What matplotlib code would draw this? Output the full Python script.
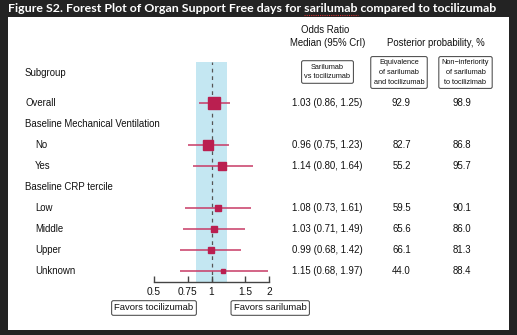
import matplotlib
matplotlib.use("Agg")
import matplotlib.pyplot as plt
import matplotlib.transforms as mtransforms
from matplotlib.patches import Rectangle

# ---- data ----
row_labels = ["Overall", "Baseline Mechanical Ventilation", "No", "Yes",
              "Baseline CRP tercile", "Low", "Middle", "Upper", "Unknown"]
indented = [False, False, True, True, False, True, True, True, True]
medians = [1.03, None, 0.96, 1.14, None, 1.08, 1.03, 0.99, 1.15]
lower = [0.86, None, 0.75, 0.80, None, 0.73, 0.71, 0.68, 0.68]
upper = [1.25, None, 1.23, 1.64, None, 1.61, 1.49, 1.42, 1.97]
equivalence = ["92.9", "", "82.7", "55.2", "", "59.5", "65.6", "66.1", "44.0"]
noninferiority = ["98.9", "", "86.8", "95.7", "", "90.1", "86.0", "81.3", "88.4"]
marker_sizes = [8.6, 0, 7.2, 5.4, 0, 4.7, 5.0, 5.0, 2.9]
xticks = [0.5, 0.75, 1, 1.5, 2]
xtick_labels = ["0.5", "0.75", "1", "1.5", "2"]
equiv_band = (1 / 1.2, 1.2)

W, H = 517, 335
fig = plt.figure(figsize=(W / 100, H / 100), dpi=100)
fig.patch.set_facecolor("#232323")

def fx(px):
    return px / W

def fy(py):
    return 1 - py / H

# white panel
fig.patches.append(Rectangle((fx(8), fy(330)), fx(509) - fx(8), fy(17) - fy(330),
                             transform=fig.transFigure, facecolor="white",
                             edgecolor="none", zorder=-5))

title_prefix = "Figure S2. Forest Plot of Organ Support Free days for "
title_word = "sarilumab"
title_kw = dict(color="white", fontsize=8.95, fontweight="bold", family="Lato",
                ha="left", va="center")
fig.text(fx(8), fy(9), title_prefix + title_word + " compared to tocilizumab", **title_kw)

# spell-check underline under "sarilumab", positioned from measured text extents
renderer = fig.canvas.get_renderer()
t1 = fig.text(fx(8), fy(9), title_prefix.rstrip() + " ", **title_kw)
t2 = fig.text(fx(8), fy(9), title_prefix + title_word, **title_kw)
t1.set_text(title_prefix.rstrip() + " x")
bb_x = t1.get_window_extent(renderer)
t1.set_text(title_prefix.rstrip() + " ")
t1.set_text("x")
bb_xx = t1.get_window_extent(renderer)
t1.set_text(title_prefix.rstrip() + " x")
x_start = bb_x.x1 - bb_xx.width
x_end = t2.get_window_extent(renderer).x1
t1.remove()
t2.remove()
fig.lines.append(plt.Line2D([x_start / W, x_end / W], [fy(15.2), fy(15.2)], transform=fig.transFigure,
                            color="#D03030", lw=0.8, ls=(0, (1, 1)), zorder=4))

# forest axes
ax_left, ax_right = 154, 269
ax_top, ax_bot = 62, 282
ax = fig.add_axes([fx(ax_left), fy(ax_bot), fx(ax_right) - fx(ax_left), (ax_bot - ax_top) / H])
ax.set_zorder(5)
ax.set_xscale("log")
ax.set_xlim(0.5, 2)
ax.set_ylim(9.52, -0.95)
ax.patch.set_alpha(0)
for s in ["top", "right", "left"]:
    ax.spines[s].set_visible(False)
ax.spines["bottom"].set_color("#444444")
ax.spines["bottom"].set_linewidth(1.0)
ax.set_yticks([])
ax.set_xticks(xticks)
ax.set_xticklabels(xtick_labels)
ax.xaxis.set_minor_locator(matplotlib.ticker.NullLocator())
ax.tick_params(axis="x", direction="in", length=4, width=1.0, color="#444444",
               labelsize=7.3, pad=3.5, labelcolor="#111111")
for lab in ax.get_xticklabels():
    lab.set_family("Liberation Sans")

ax.axvspan(equiv_band[0], equiv_band[1], color="#C4E7F2", zorder=0, lw=0)
ax.axvline(1, color="#555555", lw=0.9, ls=(0, (3, 3)), zorder=1)

ypos = [1, 2, 3, 4, 5, 6, 7, 8, 9]
for i, y in enumerate(ypos):
    if medians[i] is None:
        continue
    ax.plot([lower[i], upper[i]], [y, y], color="#C83A66", lw=1.1, zorder=2,
            solid_capstyle="butt", clip_on=False)
    ax.plot([medians[i]], [y], marker="s", ms=marker_sizes[i], color="#BA1F50",
            mec="#BA1F50", zorder=3, clip_on=False)

trans = mtransforms.blended_transform_factory(fig.transFigure, ax.transData)
fnt = dict(family="Liberation Sans", color="#111111")
fs = 6.9

ax.text(fx(25), -0.43, "Subgroup", transform=trans, fontsize=fs, ha="left", va="center", **fnt)
for i, y in enumerate(ypos):
    x = 35 if indented[i] else 25
    ax.text(fx(x), y, row_labels[i], transform=trans, fontsize=fs, ha="left", va="center", **fnt)
    if medians[i] is not None:
        ax.text(fx(327), y, f"{medians[i]:.2f} ({lower[i]:.2f}, {upper[i]:.2f})",
                transform=trans, fontsize=fs, ha="center", va="center", **fnt)
        ax.text(fx(401.5), y, equivalence[i], transform=trans, fontsize=fs, ha="center", va="center", **fnt)
        ax.text(fx(462), y, noninferiority[i], transform=trans, fontsize=fs, ha="center", va="center", **fnt)

# headers
fig.text(fx(325), fy(30), "Odds Ratio", fontsize=fs, ha="center", va="center", **fnt)
fig.text(fx(328), fy(43), "Median (95% CrI)", fontsize=fs, ha="center", va="center", **fnt)
fig.text(fx(436), fy(43), "Posterior probability, %", fontsize=fs, ha="center", va="center", **fnt)

box = dict(boxstyle="round,pad=0.4,rounding_size=0.25", facecolor="white",
           edgecolor="#555555", linewidth=0.8)
fig.text(fx(327.5), fy(72), "Sarilumab\nvs tocilizumab", fontsize=5.3, ha="center", va="center",
         linespacing=1.55, bbox=box, **fnt)
fig.text(fx(399), fy(72.5), "Equivalence\nof sarilumab\nand tocilizumab", fontsize=5.3, ha="center",
         va="center", linespacing=1.5, bbox=box, **fnt)
fig.text(fx(465.5), fy(72.5), "Non\u2212inferiority\nof sarilumab\nto tocilizimab", fontsize=5.3,
         ha="center", va="center", linespacing=1.5, bbox=box, **fnt)

fbox = dict(boxstyle="round,pad=0.3,rounding_size=0.2", facecolor="white",
            edgecolor="#555555", linewidth=0.8)
transx = mtransforms.blended_transform_factory(ax.transData, fig.transFigure)
ax.text(0.5, fy(308), "Favors tocilizumab", transform=transx, fontsize=6.8, ha="center",
        va="center", bbox=fbox, clip_on=False, **fnt)
ax.text(2.03, fy(308), "Favors sarilumab", transform=transx, fontsize=6.8, ha="center",
        va="center", bbox=fbox, clip_on=False, **fnt)

fig.savefig("out.png", dpi=100, facecolor=fig.get_facecolor())
